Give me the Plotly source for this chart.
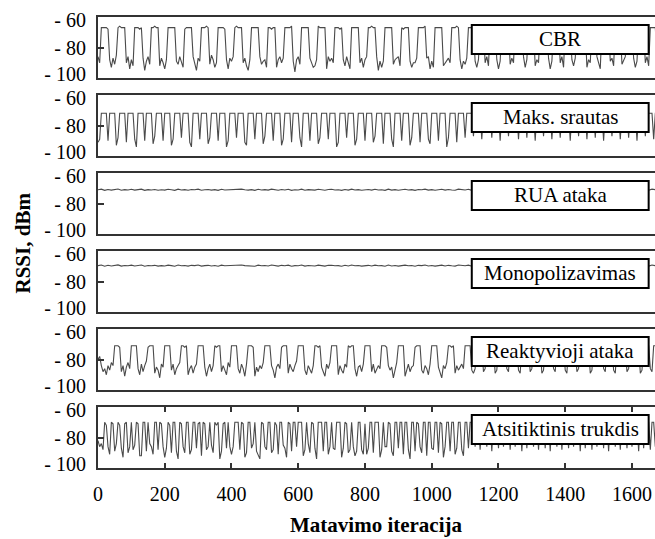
import plotly.graph_objects as go
from plotly.subplots import make_subplots

# ---------------- data (RSSI, dBm) ----------------
panel_names = ["CBR", "Maks. srautas", "RUA ataka", "Monopolizavimas",
               "Reaktyvioji ataka", "Atsitiktinis trukdis"]
# iteration spacing between consecutive stored samples of each panel
sample_steps = [5, 5, 10, 10, 5, 5]

x_tick_vals = [0, 200, 400, 600, 800, 1000, 1200, 1400, 1600]
# labels of the y axis sit slightly inside the panel edges in the original
y_label_pos = [-97.3, -80, -62.1]
y_tick_text = ["- 100", "- 80", "- 60"]

cbr_rssi = [
    -86, -90, -67, -67, -67, -67, -68, -88, -93, -87,
    -91, -85, -67, -66, -67, -67, -67, -90, -86, -94,
    -88, -92, -67, -67, -67, -68, -67, -87, -95, -89,
    -86, -91, -67, -67, -66, -67, -67, -92, -87, -90,
    -94, -88, -67, -67, -67, -67, -67, -89, -91, -86,
    -90, -93, -68, -67, -67, -67, -67, -86, -90, -95,
    -87, -89, -67, -67, -67, -66, -67, -91, -85, -88,
    -93, -90, -67, -67, -67, -67, -68, -88, -94, -87,
    -89, -86, -67, -66, -67, -67, -67, -90, -87, -92,
    -95, -88, -67, -67, -67, -67, -67, -86, -91, -89,
    -88, -93, -67, -67, -68, -67, -67, -93, -88, -86,
    -90, -87, -67, -67, -67, -67, -66, -89, -96, -88,
    -86, -91, -67, -67, -67, -67, -67, -87, -90, -93,
    -92, -88, -66, -67, -67, -67, -67, -94, -86, -89,
    -87, -90, -67, -67, -67, -68, -67, -88, -92, -86,
    -91, -94, -67, -67, -67, -67, -67, -90, -87, -93,
    -88, -86, -67, -67, -66, -67, -67, -86, -95, -89,
    -93, -89, -67, -67, -67, -67, -67, -91, -88, -87,
    -86, -92, -67, -68, -67, -67, -67, -89, -93, -90,
    -90, -87, -67, -67, -67, -67, -66, -87, -86, -94,
    -89, -93, -67, -67, -67, -67, -67, -92, -90, -88,
    -87, -90, -67, -67, -67, -66, -67, -88, -94, -89,
    -91, -87, -67, -67, -67, -67, -89, -93, -88, -67,
    -67, -67, -90, -86, -92, -67, -67, -67, -67, -88,
    -94, -89, -67, -67, -67, -67, -67, -91, -87, -90,
    -67, -67, -67, -67, -67, -86, -93, -88, -67, -67,
    -67, -67, -92, -88, -90, -67, -67, -67, -67, -67,
    -87, -94, -89, -67, -67, -67, -67, -90, -86, -93,
    -67, -67, -67, -67, -88, -92, -87, -67, -67, -67,
    -67, -67, -67, -93, -88, -90, -67, -67, -67, -86,
    -91, -94, -67, -67, -67, -67, -67, -89, -87, -92,
    -67, -67, -67, -67, -91, -88, -86, -67, -67, -67,
    -67, -87, -93, -89, -67, -67, -67, -67, -90, -86,
    -92, -67, -67, -67, -67, -88, -91,
]

maks_rssi = [
    -91, -89, -72, -72, -72, -72, -90, -72, -72, -72, -72, -93, -88, -72, -72,
    -72, -72, -91, -72, -72, -72, -72, -89, -94, -72, -72, -72, -72, -90, -72,
    -72, -72, -72, -92, -87, -72, -72, -72, -72, -90, -72, -72, -72, -72, -93,
    -89, -72, -72, -72, -72, -88, -72, -72, -72, -72, -91, -94, -72, -72, -72,
    -72, -89, -72, -72, -72, -72, -92, -88, -72, -72, -72, -72, -90, -72, -72,
    -72, -72, -94, -90, -72, -72, -72, -72, -88, -72, -72, -72, -72, -91, -93,
    -72, -72, -72, -72, -89, -72, -72, -72, -72, -92, -87, -72, -72, -72, -72,
    -90, -72, -72, -72, -72, -93, -89, -72, -72, -72, -72, -91, -72, -72, -72,
    -72, -88, -94, -72, -72, -72, -72, -90, -72, -72, -72, -72, -92, -88, -72,
    -72, -72, -72, -89, -72, -72, -72, -72, -94, -91, -72, -72, -72, -72, -88,
    -72, -72, -72, -72, -93, -89, -72, -72, -72, -72, -90, -72, -72, -72, -72,
    -91, -87, -72, -72, -72, -72, -92, -72, -72, -72, -72, -89, -94, -72, -72,
    -72, -72, -90, -72, -72, -72, -72, -93, -88, -72, -72, -72, -72, -91, -72,
    -72, -72, -72, -89, -92, -72, -72, -72, -72, -90, -72, -72, -72, -72, -94,
    -88, -72, -72, -72, -72, -91, -72, -72, -72, -72,
    -88, -72, -72, -72, -72, -87, -72, -72, -72, -72, -89, -72, -72, -72, -72,
    -72, -88, -72, -72, -72, -72, -90, -72, -72, -72, -72, -87, -72, -72, -72,
    -72, -72, -89, -72, -72, -72, -72, -88, -72, -72, -72, -72, -90, -72, -72,
    -72, -72, -87, -72, -72, -72, -72, -89, -72, -72, -72, -72, -88, -72, -72,
    -72, -72, -72, -90, -72, -72, -72, -72, -87, -72, -72, -72, -72, -89, -72,
    -72, -72, -72, -88, -72, -72, -72, -72, -90, -72, -72, -72, -72, -87, -72,
    -72, -72, -72, -89, -72, -72, -72, -72, -88, -72, -72, -72, -72, -90, -72,
    -72, -72, -72, -87, -72, -72, -72, -72, -89, -72, -72, -72,
]

rua_rssi = [
    -71.0, -70.6, -71.4, -70.8, -71.2, -71.0, -70.5, -71.3, -70.9, -71.1,
    -70.7, -71.2, -71.0, -70.6, -71.4, -70.9, -71.1, -70.8, -71.3, -71.0,
    -71.2, -70.7, -71.0, -71.4, -70.6, -71.1, -70.9, -71.3, -70.8, -71.0,
    -70.6, -71.3, -71.0, -70.8, -71.2, -70.9, -71.4, -70.7, -71.1, -71.0,
    -71.3, -70.8, -71.1, -70.6, -71.0, -71.2, -70.9, -71.4, -70.7, -71.1,
    -70.9, -71.2, -70.6, -71.0, -71.3, -70.8, -71.1, -70.7, -71.4, -71.0,
    -71.1, -70.6, -71.3, -70.9, -71.0, -71.2, -70.7, -71.0, -71.3, -70.8,
    -70.7, -71.1, -71.0, -71.4, -70.8, -71.2, -70.6, -71.1, -70.9, -71.3,
    -71.0, -70.8, -71.2, -70.7, -71.1, -71.0, -71.4, -70.6, -71.2, -70.9,
    -71.3, -71.0, -70.7, -71.1, -70.9, -71.4, -70.8, -71.0, -70.6, -71.2,
    -70.9, -71.3, -71.0, -70.7, -71.2, -70.8, -71.1, -71.3, -70.6, -71.0,
    -71.1, -70.7, -71.4, -71.0, -70.8, -71.2, -70.9, -71.1, -70.6, -71.3,
    -70.8, -71.0, -71.2, -70.6, -71.3, -70.9, -71.1, -70.7, -71.0, -71.4,
    -71.2, -70.9, -71.0, -71.3, -70.7, -71.1, -70.8, -71.2, -71.0, -70.6,
    -70.6, -71.1, -70.9, -71.2, -71.0, -70.8, -71.3, -70.7, -71.1, -71.0,
    -71.3, -70.8, -71.0, -70.6, -71.2, -71.1, -70.9, -71.4, -70.8, -71.0,
    -71.0, -70.7, -71.2, -70.9, -71.1, -71.3, -70.6, -71.0, -71.2,
]

mono_rssi = [
    -69.6, -69.2, -70.0, -69.4, -69.8, -69.6, -69.1, -69.9, -69.5, -69.7,
    -69.3, -69.8, -69.6, -69.2, -70.0, -69.5, -69.7, -69.4, -69.9, -69.6,
    -69.8, -69.3, -69.6, -70.0, -69.2, -69.7, -69.5, -69.9, -69.4, -69.6,
    -69.2, -69.9, -69.6, -69.4, -69.8, -69.5, -70.0, -69.3, -69.7, -69.6,
    -69.9, -69.4, -69.7, -69.2, -69.6, -69.8, -69.5, -70.0, -69.3, -69.7,
    -69.5, -69.8, -69.2, -69.6, -69.9, -69.4, -69.7, -69.3, -70.0, -69.6,
    -69.7, -69.2, -69.9, -69.5, -69.6, -69.8, -69.3, -69.6, -69.9, -69.4,
    -69.3, -69.7, -69.6, -70.0, -69.4, -69.8, -69.2, -69.7, -69.5, -69.9,
    -69.6, -69.4, -69.8, -69.3, -69.7, -69.6, -70.0, -69.2, -69.8, -69.5,
    -69.9, -69.6, -69.3, -69.7, -69.5, -70.0, -69.4, -69.6, -69.2, -69.8,
    -69.5, -69.9, -69.6, -69.3, -69.8, -69.4, -69.7, -69.9, -69.2, -69.6,
    -69.7, -69.3, -70.0, -69.6, -69.4, -69.8, -69.5, -69.7, -69.2, -69.9,
    -69.4, -69.6, -69.8, -69.2, -69.9, -69.5, -69.7, -69.3, -69.6, -70.0,
    -69.8, -69.5, -69.6, -69.9, -69.3, -69.7, -69.4, -69.8, -69.6, -69.2,
    -69.2, -69.7, -69.5, -69.8, -69.6, -69.4, -69.9, -69.3, -69.7, -69.6,
    -69.9, -69.4, -69.6, -69.2, -69.8, -69.7, -69.5, -70.0, -69.4, -69.6,
    -69.6, -69.3, -69.8, -69.5, -69.7, -69.9, -69.2, -69.6, -69.8,
]

reakt_rssi = [
    -80, -78, -84, -88, -86, -90, -84, -87, -82, -84,
    -71, -71, -71, -72, -88, -84, -91, -85, -82, -86,
    -71, -71, -71, -71, -86, -90, -83, -88, -84, -81,
    -72, -71, -71, -71, -89, -85, -87, -92, -83, -85,
    -71, -71, -71, -71, -87, -83, -90, -86, -84, -82,
    -71, -71, -72, -71, -90, -86, -84, -89, -85, -83,
    -71, -71, -71, -71, -85, -91, -86, -83, -88, -84,
    -71, -72, -71, -71, -88, -84, -87, -90, -82, -85,
    -71, -71, -71, -71, -86, -89, -83, -86, -91, -83,
    -71, -71, -71, -72, -91, -85, -88, -84, -86, -82,
    -71, -71, -71, -71, -84, -87, -92, -85, -83, -86,
    -72, -71, -71, -71, -89, -83, -86, -88, -84, -81,
    -71, -71, -71, -71, -87, -90, -84, -86, -89, -84,
    -71, -71, -72, -71, -85, -88, -91, -83, -86, -82,
    -71, -71, -71, -71, -90, -84, -87, -89, -83, -85,
    -71, -72, -71, -71, -86, -91, -85, -84, -88, -83,
    -71, -71, -71, -71, -88, -83, -89, -86, -84, -86,
    -71, -71, -71, -72, -84, -87, -85, -92, -86, -82,
    -71, -71, -71, -71, -91, -86, -83, -88, -85, -84,
    -72, -71, -71, -71, -87, -89, -84, -86, -90, -83,
    -71, -71, -71, -71, -85, -88, -92, -84, -86, -82,
    -71, -71, -72, -71, -89, -84, -87, -85, -83, -86,
    -71, -71, -71, -71, -87, -89, -86, -71, -71, -71,
    -71, -88, -86, -71, -71, -71, -71, -71, -89, -87,
    -71, -71, -71, -71, -71, -86, -88, -71, -71, -71,
    -71, -71, -87, -89, -71, -71, -71, -71, -71, -88,
    -86, -71, -71, -71, -71, -71, -89, -87, -71, -71,
    -71, -71, -71, -86, -88, -71, -71, -71, -71, -71,
    -87, -89, -71, -71, -71, -71, -71, -88, -86, -71,
    -71, -71, -71, -71, -71, -89, -87, -71, -71, -71,
    -71, -71, -71, -86, -88, -71, -71, -71, -71, -87,
    -89, -71, -71, -71, -71, -71, -71, -88, -86, -71,
    -71, -71, -71, -71, -71, -89, -87, -71, -71, -71,
    -71, -86, -88, -71, -71, -71, -71,
]

atsit_rssi = [
    -82, -86, -84, -88, -70, -72, -86, -91, -70, -71, -89, -84, -70, -72, -87,
    -93, -71, -70, -90, -86, -70, -88, -85, -70, -71, -92, -92, -70, -70, -89,
    -70, -84, -86, -91, -70, -70, -88, -70, -71, -86, -93, -87, -70, -72, -90,
    -70, -70, -89, -94, -70, -71, -86, -90, -70, -70, -91, -88, -70, -70, -87,
    -71, -70, -92, -70, -71, -88, -86, -70, -85, -90, -70, -72, -70, -94, -89,
    -71, -70, -87, -70, -86, -91, -86, -70, -70, -70, -88, -70, -71, -93, -90,
    -70, -70, -87, -84, -70, -89, -92, -94, -70, -71, -86, -88, -70, -70, -90,
    -88, -70, -72, -91, -70, -70, -85, -87, -93, -70, -71, -89, -70, -70, -86,
    -70, -70, -70, -92, -88, -70, -84, -90, -70, -71, -87, -94, -70, -70, -70,
    -89, -70, -70, -91, -86, -70, -87, -88, -70, -70, -70, -93, -87, -70, -71,
    -90, -88, -70, -86, -92, -89, -70, -70, -88, -91, -71, -91, -87, -70, -70,
    -90, -70, -70, -70, -93, -88, -70, -86, -86, -70, -71, -89, -92, -70, -70,
    -87, -70, -70, -91, -70, -70, -88, -94, -70, -70, -89, -70, -71, -86, -90,
    -70, -70, -92, -70, -70, -87, -88, -70, -70, -90, -70, -71, -93, -86, -70,
    -70, -89, -70, -70, -91, -87, -70, -70, -88, -92,
    -70, -70, -87, -70, -70, -70, -86, -70, -70, -88, -70, -70, -70, -86, -70,
    -70, -89, -70, -70, -70, -87, -70, -70, -86, -70, -70, -70, -88, -70, -70,
    -86, -70, -70, -70, -89, -70, -70, -87, -70, -70, -70, -86, -70, -70, -88,
    -70, -70, -70, -87, -70, -70, -89, -70, -70, -70, -86, -70, -70, -88, -70,
    -70, -70, -87, -70, -70, -86, -70, -70, -70, -89, -70, -70, -87, -70, -70,
    -70, -88, -70, -70, -86, -70, -70, -70, -87, -70, -70, -89, -70, -70, -70,
    -86, -70, -70, -88, -70, -70, -70, -87, -70, -70, -86, -70, -70, -70, -89,
    -70, -70, -87, -70, -70, -70, -88, -70, -70, -86, -70, -70,
]

series = [cbr_rssi, maks_rssi, rua_rssi, mono_rssi, reakt_rssi, atsit_rssi]

# ---------------- figure ----------------
SERIF = "Liberation Serif"
FRAME = "#333333"

fig = make_subplots(rows=6, cols=1, shared_xaxes=True, vertical_spacing=0.0377)

for i, (vals, step) in enumerate(zip(series, sample_steps)):
    xs = [k * step for k in range(len(vals))]
    fig.add_trace(
        go.Scatter(x=xs, y=vals, mode="lines",
                   line=dict(color="#4a4a4a", width=1.1),
                   showlegend=False, hoverinfo="skip"),
        row=i + 1, col=1)
    # white label box hiding the curve behind it
    fig.add_shape(type="rect", x0=1120, x1=1650, y0=-84.3, y1=-65.2,
                  line=dict(color="black", width=2), fillcolor="white",
                  layer="above", row=i + 1, col=1)
    fig.add_annotation(x=1385, y=-74.75, text=panel_names[i], showarrow=False,
                       font=dict(family=SERIF, size=21, color="black"),
                       row=i + 1, col=1)

fig.update_xaxes(range=[0, 1669], showline=True, linewidth=2, linecolor=FRAME,
                 mirror=True, showgrid=False, zeroline=False, ticks="",
                 showticklabels=False, automargin=False)
fig.update_xaxes(ticks="inside", ticklen=5, tickwidth=1.5, tickcolor=FRAME,
                 mirror="ticks", tickvals=x_tick_vals, showticklabels=True,
                 ticklabelstandoff=7,
                 tickfont=dict(family=SERIF, size=20, color="black"),
                 row=6, col=1)
fig.update_yaxes(range=[-100, -60], tickvals=y_label_pos, ticktext=y_tick_text,
                 ticks="", showline=True, linewidth=2, linecolor=FRAME,
                 mirror=False, showgrid=False, zeroline=False,
                 automargin=False, ticklabelstandoff=6,
                 minor=dict(tickvals=[-80.02], ticks="inside", ticklen=6,
                            tickwidth=1.5, tickcolor=FRAME, showgrid=False),
                 tickfont=dict(family=SERIF, size=20, color="black"))

fig.add_annotation(xref="paper", yref="paper", x=-0.1347, y=0.5,
                   text="<b>RSSI, dBm</b>", textangle=-90, showarrow=False,
                   font=dict(family=SERIF, size=21, color="black"),
                   xanchor="center", yanchor="middle")
fig.add_annotation(xref="paper", yref="paper", x=0.5, y=-0.126,
                   text="<b>Matavimo iteracija</b>", showarrow=False,
                   font=dict(family=SERIF, size=21, color="black"),
                   xanchor="center", yanchor="middle")

fig.update_layout(width=655, height=539,
                  margin=dict(l=98, r=0, t=17, b=71),
                  paper_bgcolor="white", plot_bgcolor="white")

# the page's default 8px body margin would shift the 655x539 figure
fig.write_html("out.html",
               config={"displayModeBar": False},
               post_script="document.body.style.margin='0';"
                           "document.body.style.overflow='hidden';")
